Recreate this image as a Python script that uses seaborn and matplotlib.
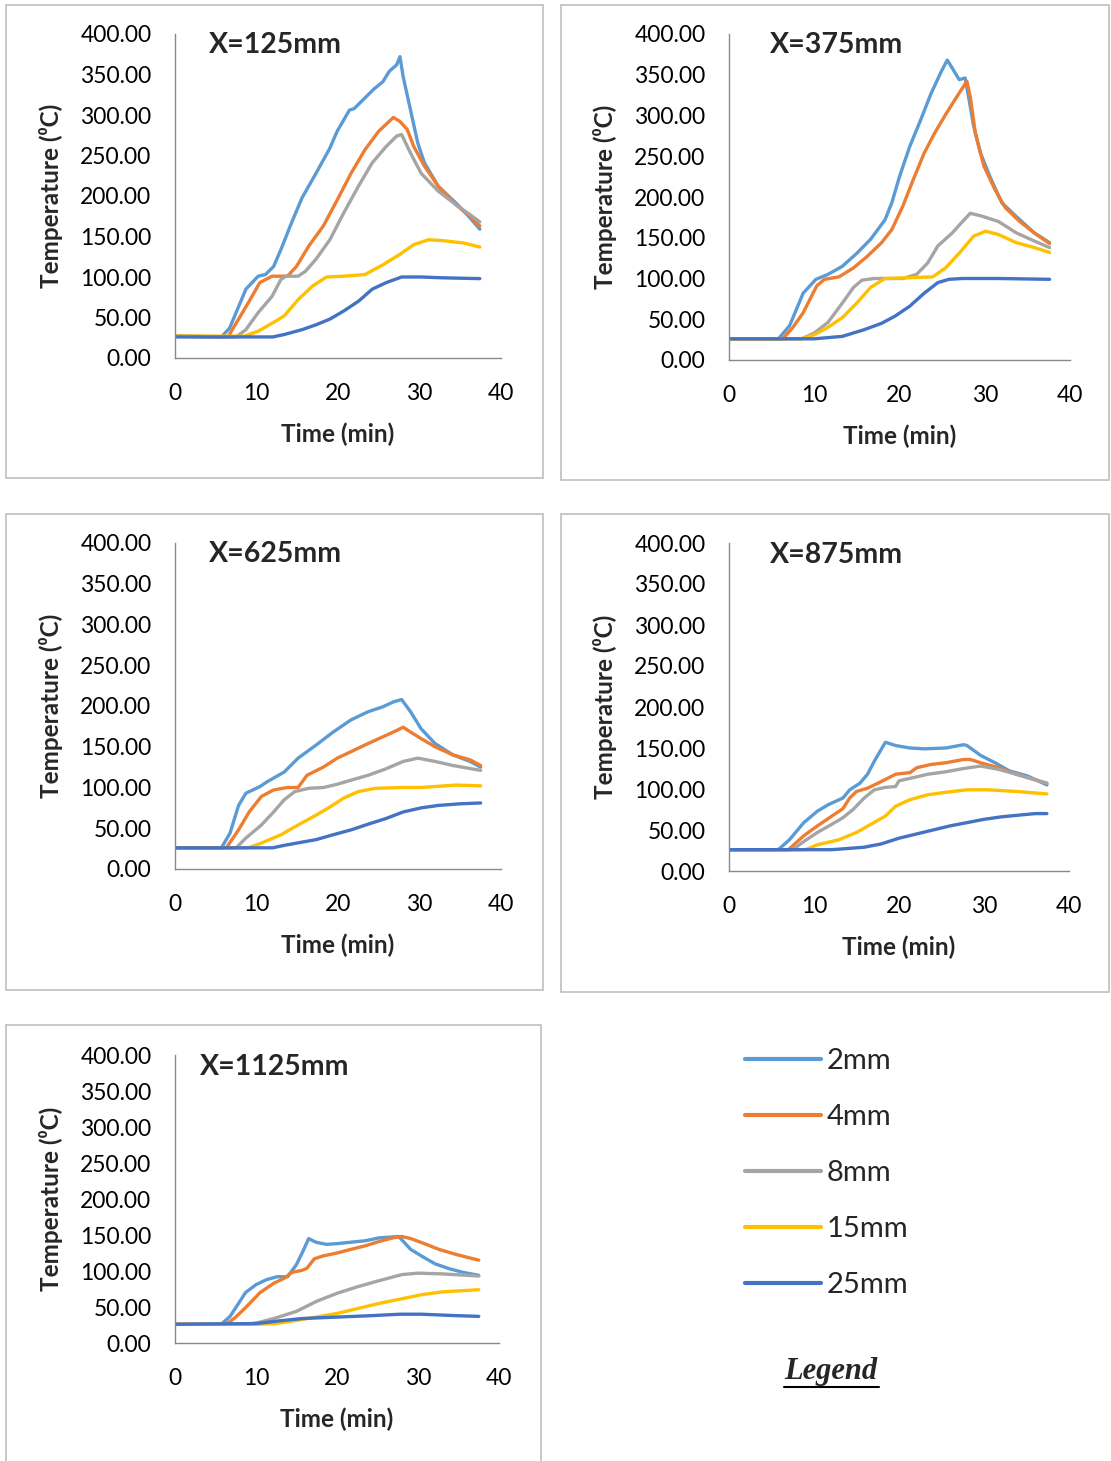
import numpy as np
import pandas as pd
import matplotlib
matplotlib.use("Agg")
import matplotlib.pyplot as plt
import seaborn as sns
from matplotlib.patches import Rectangle
from matplotlib.lines import Line2D

# ---------------- data ----------------
thicknesses = ["2mm", "4mm", "8mm", "15mm", "25mm"]
panel_titles = ["X=125mm", "X=375mm", "X=625mm", "X=875mm", "X=1125mm"]
y_ticks = [0, 50, 100, 150, 200, 250, 300, 350, 400]
x_ticks = [0, 10, 20, 30, 40]

# X = 125 mm
p125_2_t = [0, 5.7, 6.7, 8.7, 10.2, 11.1, 12.1, 13, 14.3, 15.6, 17.3, 19, 19.9, 21.4, 22, 23.3, 24.4, 25.5, 26.3, 27.2, 27.6, 28, 28.9, 29.8, 30.6, 32.3, 34.5, 36.2, 37.4]
p125_2_T = [27, 26, 37, 85, 101, 103, 113, 134, 167, 198, 228, 259, 280, 306, 308, 321, 332, 341, 354, 362, 372, 347, 306, 265, 241, 212, 191, 173, 159]
p125_4_t = [0, 6.5, 7.8, 9.1, 10.4, 11.9, 13.8, 14.9, 16.4, 18.2, 19.9, 21.6, 23.3, 25, 26.8, 27.6, 28.5, 29.3, 30.6, 32.3, 34.5, 36.2, 37.4]
p125_4_T = [27, 26, 48, 70, 93, 101, 101, 113, 138, 163, 195, 228, 257, 280, 297, 292, 282, 261, 237, 212, 189, 175, 163]
p125_8_t = [0, 7.5, 8.7, 10.2, 11.9, 13, 13.6, 15.1, 16, 17.3, 19, 20.7, 22.5, 24.2, 25.9, 27.2, 27.8, 28.9, 30.2, 32.3, 34.5, 36.2, 37.4]
p125_8_T = [27, 26, 35, 56, 76, 97, 101, 101, 107, 122, 146, 179, 212, 241, 261, 274, 276, 253, 228, 206, 189, 177, 168]
p125_15_t = [0, 8.5, 10.2, 12.1, 13.4, 15.1, 16.9, 18.6, 20.7, 23.3, 25.5, 27.6, 29.3, 31.1, 32.8, 35.4, 37.4]
p125_15_T = [27, 27, 33, 44, 52, 72, 89, 100, 101, 103, 115, 128, 140, 146, 145, 142, 137]
p125_25_t = [0, 12, 13.4, 15.6, 17.3, 19, 20.7, 22.5, 24.2, 25.9, 27.8, 30.2, 32.8, 37.4]
p125_25_T = [26, 26, 29, 35, 41, 48, 58, 70, 85, 93, 100, 100, 99, 98]

# X = 375 mm
p375_2_t = [0, 5.8, 7.1, 8.7, 10.2, 11.6, 13.3, 15, 16.6, 18.3, 19.1, 20, 21.2, 22.5, 23.7, 24.9, 25.6, 26.2, 27, 27.7, 28.1, 28.7, 29.5, 30.6, 32, 33.7, 35.8, 37.6]
p375_2_T = [26, 26, 42, 82, 99, 105, 115, 131, 148, 172, 193, 225, 262, 295, 327, 354, 368, 358, 344, 346, 323, 287, 254, 225, 193, 176, 156, 144]
p375_4_t = [0, 6.3, 7.5, 8.7, 10.3, 11.2, 12.9, 14.6, 16.2, 17.9, 19.1, 20.4, 21.6, 22.9, 24.1, 25.4, 26.6, 27.9, 28.3, 28.9, 29.9, 31.2, 32.4, 34.1, 35.8, 37.6]
p375_4_T = [26, 26, 40, 58, 91, 99, 102, 113, 127, 144, 160, 189, 221, 254, 278, 301, 321, 342, 323, 278, 238, 209, 187, 170, 156, 143]
p375_8_t = [0, 8.5, 10, 11.6, 13.3, 14.6, 15.6, 17, 20.4, 22, 23.3, 24.5, 26.2, 27.4, 28.3, 29.5, 31.6, 33.7, 35.8, 37.6]
p375_8_T = [26, 26, 33, 46, 70, 89, 98, 100, 100, 105, 119, 140, 156, 170, 180, 177, 170, 156, 146, 138]
p375_15_t = [0, 8.5, 10, 11.6, 13.3, 15, 16.6, 18.3, 21.2, 23.9, 25.4, 27, 28.7, 30.1, 31.6, 33.7, 35.8, 37.6]
p375_15_T = [26, 26, 31, 40, 52, 70, 89, 100, 101, 102, 113, 131, 152, 158, 154, 144, 138, 132]
p375_25_t = [0, 10, 13.3, 15.8, 17.9, 19.5, 21.2, 22.9, 24.5, 25.8, 27.4, 31.6, 37.6]
p375_25_T = [26, 26, 29, 37, 45, 54, 66, 82, 95, 99, 100, 100, 99]

# X = 625 mm
p625_2_t = [0, 5.7, 6.75, 7.8, 8.7, 10.4, 11.3, 13.4, 15.1, 17.3, 19.4, 21.6, 23.7, 25.5, 26.8, 27.8, 28.9, 30.2, 31.9, 34.1, 36.2, 37.5]
p625_2_T = [26, 26, 44, 78, 93, 101, 107, 119, 136, 152, 168, 183, 193, 199, 205, 208, 193, 172, 154, 140, 132, 125]
p625_4_t = [0, 6.3, 7.8, 9.1, 10.6, 12.1, 13.8, 15.1, 16.2, 18.2, 19.9, 21.6, 23.7, 25.9, 27.2, 28, 28.9, 30.2, 31.9, 34.1, 36.2, 37.5]
p625_4_T = [26, 26, 48, 70, 89, 97, 100, 100, 115, 125, 136, 144, 154, 164, 170, 174, 168, 160, 150, 140, 134, 127]
p625_8_t = [0, 7.5, 8.7, 10.6, 12.1, 13.4, 14.7, 16.4, 18.2, 19.9, 21.6, 23.7, 25.9, 28, 29.8, 31.9, 34.1, 37.5]
p625_8_T = [26, 26, 38, 54, 70, 85, 95, 99, 100, 104, 109, 115, 123, 132, 136, 132, 127, 121]
p625_15_t = [0, 9, 10.4, 13, 15.1, 17.3, 19, 20.7, 22.5, 24.6, 28, 30.2, 34.5, 37.5]
p625_15_T = [26, 26, 31, 42, 54, 66, 76, 87, 95, 99, 100, 100, 103, 102]
p625_25_t = [0, 12, 13.4, 15.6, 17.3, 19.4, 21.6, 23.7, 25.9, 28, 30.2, 32.3, 35, 37.5]
p625_25_T = [26, 26, 29, 33, 36, 42, 48, 55, 62, 70, 75, 78, 80, 81]

# X = 875 mm
p875_2_t = [0, 5.8, 7.1, 8.8, 10.4, 11.7, 13.4, 14.2, 15.4, 16.3, 17.1, 18.4, 19.6, 21.3, 23, 25.5, 27.6, 28, 29.6, 31.3, 33, 35.1, 37.4]
p875_2_T = [26, 26, 38, 59, 73, 81, 89, 99, 107, 118, 134, 157, 153, 150, 149, 150, 154, 153, 141, 132, 122, 116, 105]
p875_4_t = [0, 7, 8.8, 10.4, 12.1, 13.4, 14.2, 15, 16.3, 17.9, 19.6, 21.3, 22.1, 23.8, 25.5, 27.6, 28.4, 29.6, 31.7, 33.8, 37.4]
p875_4_T = [26, 26, 43, 55, 67, 76, 89, 97, 101, 109, 118, 120, 126, 130, 132, 136, 136, 132, 126, 118, 107]
p875_8_t = [0, 7.5, 8.8, 10.4, 12.1, 13.4, 14.6, 15.9, 17.1, 18.4, 19.6, 20, 21.3, 23.4, 25.5, 27.6, 29.6, 31.7, 33.8, 37.4]
p875_8_T = [26, 26, 36, 47, 57, 65, 75, 89, 99, 102, 103, 110, 113, 118, 121, 125, 128, 124, 118, 107]
p875_15_t = [0, 9, 10.4, 12.9, 15, 16.7, 18.4, 19.6, 21.3, 23.4, 25.5, 28, 30.5, 33.8, 37.4]
p875_15_T = [26, 26, 32, 38, 47, 57, 67, 79, 87, 93, 96, 99, 99, 97, 94]
p875_25_t = [0, 12, 13.4, 15.9, 17.9, 20, 22, 24, 26, 28, 30, 32, 34, 36, 37.4]
p875_25_T = [26, 26, 27, 29, 33, 40, 45, 50, 55, 59, 63, 66, 68, 70, 70]

# X = 1125 mm
p1125_2_t = [0, 5.7, 6.8, 7.9, 8.7, 10, 11.3, 12.6, 13.9, 15, 15.9, 16.5, 17.4, 18.7, 20, 21.7, 23.5, 25.2, 26.5, 27.6, 28.2, 29.1, 30.4, 32.1, 33.9, 35.6, 37.5]
p1125_2_T = [26, 26, 37, 56, 70, 81, 88, 92, 92, 109, 130, 145, 140, 137, 138, 140, 142, 146, 147, 148, 141, 130, 121, 110, 103, 98, 94]
p1125_4_t = [0, 6.3, 7.4, 8.7, 10.5, 12.2, 13.5, 14.4, 15.7, 16.3, 17.2, 18.3, 20, 21.7, 23.5, 25.2, 26.9, 28, 29.1, 30.8, 32.6, 34.7, 37.5]
p1125_4_T = [26, 26, 35, 49, 70, 83, 90, 98, 101, 104, 117, 121, 125, 130, 135, 141, 146, 148, 145, 138, 130, 123, 115]
p1125_8_t = [0, 9, 10.5, 12.5, 15, 17.5, 20, 22.5, 25, 28, 30, 33, 37.5]
p1125_8_T = [26, 26, 29, 35, 44, 58, 69, 78, 86, 95, 97, 96, 93]
p1125_15_t = [0, 10, 12.5, 14.8, 17.4, 20, 22.6, 25.2, 27.8, 30.4, 33, 37.5]
p1125_15_T = [26, 26, 27, 31, 36, 41, 48, 55, 61, 67, 71, 74]
p1125_25_t = [0, 10, 13.1, 15.7, 20, 24.3, 27.8, 30.4, 34.7, 37.5]
p1125_25_T = [26, 27, 31, 34, 36, 38, 40, 40, 38, 37]

colors = ["#5B9BD5", "#ED7D31", "#A5A5A5", "#FFC000", "#4472C4"]

panel_series = [
    [(p125_2_t, p125_2_T), (p125_4_t, p125_4_T), (p125_8_t, p125_8_T), (p125_15_t, p125_15_T), (p125_25_t, p125_25_T)],
    [(p375_2_t, p375_2_T), (p375_4_t, p375_4_T), (p375_8_t, p375_8_T), (p375_15_t, p375_15_T), (p375_25_t, p375_25_T)],
    [(p625_2_t, p625_2_T), (p625_4_t, p625_4_T), (p625_8_t, p625_8_T), (p625_15_t, p625_15_T), (p625_25_t, p625_25_T)],
    [(p875_2_t, p875_2_T), (p875_4_t, p875_4_T), (p875_8_t, p875_8_T), (p875_15_t, p875_15_T), (p875_25_t, p875_25_T)],
    [(p1125_2_t, p1125_2_T), (p1125_4_t, p1125_4_T), (p1125_8_t, p1125_8_T), (p1125_15_t, p1125_15_T), (p1125_25_t, p1125_25_T)],
]

# ---------------- style ----------------
sns.set_style("white")
plt.rcParams["font.family"] = ["Lato", "DejaVu Sans"]

W, H = 1111, 1461
fig = plt.figure(figsize=(W / 100, H / 100), dpi=100)

# pixel layout: axes (x0, x1, ytop, ybottom), border box (x0, y0, x1, y1), title pos
axes_px = [(175, 501, 34, 358), (729, 1070, 34, 360), (175, 501, 543, 869),
           (729, 1069, 543, 871), (175, 499, 1055, 1343)]
box_px = [(6, 5, 543, 478), (561, 5, 1109, 480), (6, 514, 543, 990),
          (561, 514, 1109, 992), (6, 1025, 541, 1480)]
title_pos = [(0.104, 0.966), (0.12, 0.966), (0.104, 0.966), (0.12, 0.963), (0.077, 0.958)]

palette = dict(zip(thicknesses, colors))
spine_col = "#898989"

for b in box_px:
    fig.add_artist(Rectangle((b[0] / W, 1 - b[3] / H), (b[2] - b[0]) / W, (b[3] - b[1]) / H,
                             transform=fig.transFigure, fill=False,
                             edgecolor="#BFBFBF", linewidth=1.2, zorder=0))

for i, (ap, series) in enumerate(zip(axes_px, panel_series)):
    x0, x1, yt, yb = ap
    ax = fig.add_axes([x0 / W, 1 - yb / H, (x1 - x0) / W, (yb - yt) / H])
    frames = []
    for name, (tt, TT) in zip(thicknesses, series):
        frames.append(pd.DataFrame({"Time": tt, "Temp": TT, "Thickness": name}))
    df = pd.concat(frames, ignore_index=True)
    sns.lineplot(data=df, x="Time", y="Temp", hue="Thickness", palette=palette,
                 hue_order=thicknesses, estimator=None, sort=False, ax=ax,
                 linewidth=2.4, legend=False)
    ax.set_xlim(0, 40)
    ax.set_ylim(0, 400)
    ax.set_xticks(x_ticks)
    ax.set_yticks(y_ticks)
    ax.set_yticklabels([f"{v:.2f}" for v in y_ticks])
    for s in ["top", "right"]:
        ax.spines[s].set_visible(False)
    for s in ["left", "bottom"]:
        ax.spines[s].set_color(spine_col)
        ax.spines[s].set_linewidth(1.0)
    ax.tick_params(axis="both", which="major", direction="out", length=6, width=1.0,
                   color=spine_col, labelsize=16.5, labelcolor="black", pad=11)
    ax.tick_params(axis="x", pad=12)
    ax.set_xlabel("Time (min)", fontsize=17.5, fontweight="bold", labelpad=13)
    ax.set_ylabel("Temperature (\u2070C)", fontsize=17.5, fontweight="bold", labelpad=12)
    ax.text(title_pos[i][0], title_pos[i][1], panel_titles[i], transform=ax.transAxes,
            fontsize=20.5, fontweight="bold", ha="left", va="center")

# legend
handles = [Line2D([0], [0], color=c, linewidth=3) for c in colors]
fig.legend(handles, thicknesses, loc="upper left",
           bbox_to_anchor=(745 / W, 1 - 1048 / H), frameon=False,
           fontsize=21, labelcolor="#262626", handlelength=2.6, handletextpad=0.2,
           labelspacing=1.03, borderpad=0, borderaxespad=0)

fig.text(831 / W, 1 - 1372 / H, "Legend", fontsize=22, fontweight="bold", fontstyle="italic",
         family=["Liberation Serif", "DejaVu Serif"], ha="center", va="center")
fig.add_artist(Line2D([784 / W, 879 / W], [1 - 1387 / H, 1 - 1387 / H],
                      transform=fig.transFigure, color="black", linewidth=1.5))

fig.savefig("out.png", dpi=100, facecolor="white")
